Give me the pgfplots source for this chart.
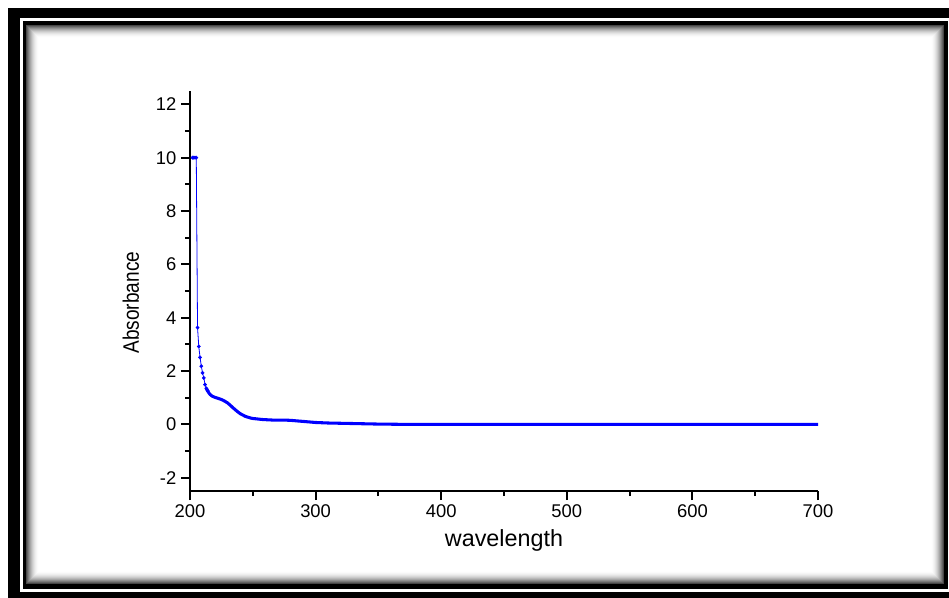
\documentclass[border=0pt]{standalone}
\usepackage{pgfplots}
\pgfplotsset{compat=1.18}
\usepackage{fontspec}
\setmainfont{Liberation Sans}
\usepackage{graphicx}
\begin{document}
\begin{tikzpicture}
\useasboundingbox (0,0) rectangle (711.75pt,-447.75pt);
\begin{scope}[x=0.75pt,y=-0.75pt]
\fill[white] (0,0) rectangle (949,597);
\fill[black] (8,8) rectangle (960,610);
\fill[white] (20,18) rectangle (950,592);
\fill[black] (23,21) rectangle (947.5,589);
\foreach \i in {0,...,12} {
  \pgfmathsetmacro\c{72*(1-\i/13)^2}
  \fill[black!\c] (26+\i,25+\i) rectangle (943.5-\i,584-\i);
}
\fill[white] (39,38) rectangle (930.5,571);
\end{scope}
\begin{axis}[
  at={(142.5pt,-368.25pt)}, anchor=south west,
  scale only axis, width=471pt, height=300pt,
  xmin=200, xmax=700, ymin=-2.5, ymax=12.5,
  axis x line=bottom, axis y line=left,
  axis line style={-, line width=1.7pt},
  xtick={200,300,...,700}, ytick={-2,0,...,12},
  minor x tick num=1, minor y tick num=1,
  tick align=outside, major tick length=6.75pt, minor tick length=3.75pt,
  every tick/.style={black, line width=1.4pt},
  /pgf/number format/assume math mode=true,
  tick label style={font=\fontsize{13.8}{16}\selectfont},
  xlabel={wavelength}, ylabel={\scalebox{0.85}[1]{Absorbance}},
  xlabel style={font=\fontsize{17.5}{20}\selectfont, at={(axis description cs:0.5,-0.1225)}, anchor=center},
  ylabel style={font=\fontsize{16.8}{20}\selectfont, at={(axis description cs:-0.094,0.471)}, anchor=center},
]
\addplot[blue, line width=0.6pt] coordinates {(202,10)(203,10)(204,10)(205,10)(206,3.63)(207,2.92)(208,2.51)(209,2.18)(210,1.93)(211,1.74)(212,1.49)(213,1.35)(214,1.26)};
\addplot[blue, only marks, mark=*, mark size=1.2pt] coordinates {(202,10)(203,10)(204,10)(205,10)(206,3.63)(207,2.92)(208,2.51)(209,2.18)(210,1.93)(211,1.74)(212,1.49)(213,1.35)(214,1.26)};
\addplot[blue, line width=2.3pt, line join=round] coordinates {(213,1.35)(214,1.26)(215,1.18)(216,1.12)(217,1.08)(218,1.05)(220,1.01)(222,0.98)(224,0.95)(226,0.91)(228,0.86)(230,0.80)(232,0.72)(234,0.63)(236,0.55)(238,0.47)(240,0.40)(242,0.35)(244,0.30)(246,0.27)(248,0.24)(250,0.22)(254,0.20)(258,0.18)(262,0.17)(266,0.16)(270,0.16)(275,0.16)(280,0.15)(285,0.13)(290,0.11)(295,0.09)(300,0.07)(310,0.05)(320,0.04)(330,0.03)(340,0.02)(350,0.01)(360,0.005)(370,0)(400,0)(500,0)(600,0)(700,0)};
\end{axis}
\end{tikzpicture}
\end{document}
